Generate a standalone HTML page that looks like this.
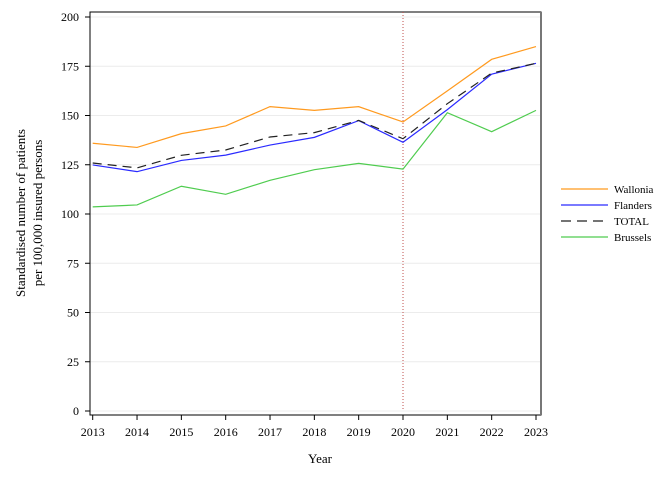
<!DOCTYPE html>
<html><head><meta charset="utf-8"><style>
html,body{margin:0;padding:0;background:#fff;}
svg text{font-family:"Liberation Serif",serif;fill:#000;}
</style></head><body>
<svg width="672" height="480" viewBox="0 0 672 480" xmlns="http://www.w3.org/2000/svg">
<g id="grid"></g>
<g id="axes"></g>
<g id="series"></g>
<g id="legend"></g>
<text x="320" y="463" font-size="13" text-anchor="middle">Year</text>
<text transform="translate(33,213) rotate(-90)" font-size="13" text-anchor="middle"><tspan x="0" dy="-8">Standardised number of patients</tspan><tspan x="0" dy="17">per 100,000 insured persons</tspan></text>
</svg>
<script>
const years = [2013,2014,2015,2016,2017,2018,2019,2020,2021,2022,2023];
const yTicks = [0,25,50,75,100,125,150,175,200];
const wallonia = [135.9,133.8,140.8,144.7,154.5,152.6,154.5,146.7,162.5,178.5,185];
const flanders = [124.9,121.5,127.2,129.9,135,138.9,147.4,136.4,153,171,176.5];
const total = [125.9,123.4,129.8,132.5,139.1,141.3,147.5,138.2,156,171.5,176.5];
const brussels = [103.6,104.6,114.1,110,117.1,122.5,125.7,122.8,151.4,141.8,152.6];
const seriesNames = ["Wallonia","Flanders","TOTAL","Brussels"];
const NS="http://www.w3.org/2000/svg";
function xs(y){return 92.7+(y-2013)*(536-92.7)/10;}
function ys(v){return 411-v*1.97;}
function mk(tag,attrs,parent){const e=document.createElementNS(NS,tag);for(const k in attrs)e.setAttribute(k,attrs[k]);parent.appendChild(e);return e;}
const grid=document.getElementById('grid'),axes=document.getElementById('axes'),ser=document.getElementById('series'),leg=document.getElementById('legend');
yTicks.forEach(t=>{
  const g=mk('line',{x1:90,x2:540,y1:ys(t),y2:ys(t),stroke:'#ececec','stroke-width':1},grid);
  
  
  const tk=mk('line',{x1:85,x2:90,y1:ys(t),y2:ys(t),stroke:'#000'},axes);
  
  
  const tx=mk('text',{x:79,y:ys(t)+4,'font-size':12,'text-anchor':'end'},axes);
  tx.textContent=t;
  
  
});
const fr=mk('rect',{x:90,y:12,width:451,height:403,fill:'none',stroke:'#000','stroke-width':1},axes);


const rb=mk('line',{x1:541,x2:541,y1:12,y2:415,stroke:'#777','stroke-width':2},axes);


years.forEach(y=>{
  const tk=mk('line',{x1:xs(y),x2:xs(y),y1:415,y2:420,stroke:'#000'},axes);
  
  
  const tx=mk('text',{x:xs(y),y:436,'font-size':12,'text-anchor':'middle'},axes);
  tx.textContent=y;
  
  
});
const ref=mk('line',{x1:xs(2020),x2:xs(2020),y1:12,y2:411,stroke:'#c0504d','stroke-width':1,'stroke-dasharray':'1,2'},ser);


const defs=[[wallonia,'#ff9a1f',''],[flanders,'#2a2aff',''],[total,'#222','9,6'],[brussels,'#4fcc4f','']];
const order=[3,0,1,2];
order.forEach(i=>{
  const [d,c,da]=defs[i];
  const p=mk('polyline',{points:d.map((v,j)=>xs(years[j])+','+ys(v)).join(' '),fill:'none',stroke:c,'stroke-width':1.2,'stroke-dasharray':da},ser);
  
  
});
defs.forEach((s,i)=>{
  const y=189+i*16;
  const l=mk('line',{x1:561,x2:608,y1:y,y2:y,stroke:s[1],'stroke-width':1.2,'stroke-dasharray':s[2]?'10,6':''},leg);
  
  
  const t=mk('text',{x:614,y:y+4,'font-size':11},leg);
  t.textContent=seriesNames[i];
  
  
});
</script>
</body></html>
